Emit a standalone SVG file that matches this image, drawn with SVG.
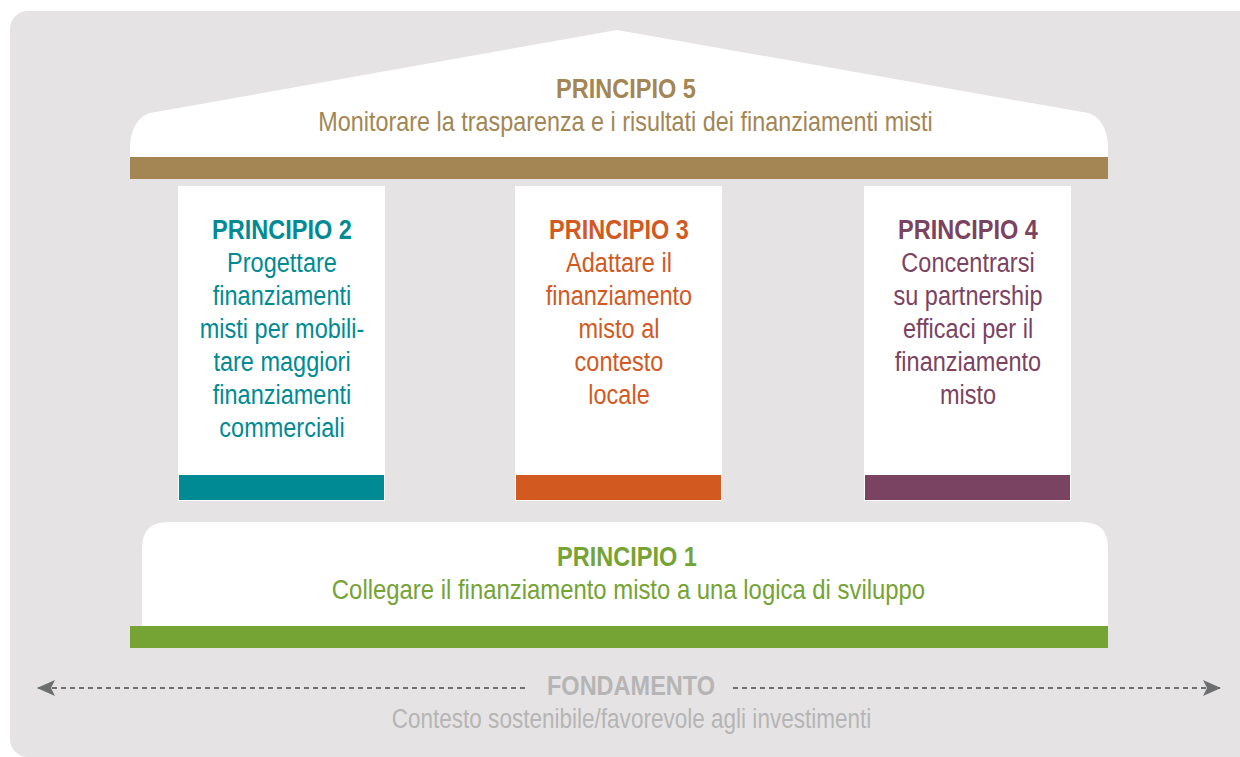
<svg xmlns="http://www.w3.org/2000/svg" width="1240" height="757" viewBox="0 0 1240 757">
<defs>
<style>
.t{font-family:"Liberation Sans",Arial,sans-serif;font-size:28px;text-anchor:middle}
.b{font-weight:bold}
.p5{fill:#A38654}.p1{fill:#75A334}.p2{fill:#008A94}.p3{fill:#D2591F}.p4{fill:#7B4362}
.gr{fill:#B5B5B5}
.w{fill:#FFFFFF}
.dash{stroke:#6D6E70;stroke-width:2;stroke-dasharray:5 4;fill:none}
</style>
<marker id="ah" viewBox="0 0 18 16" refX="17" refY="8" markerWidth="18" markerHeight="16" markerUnits="userSpaceOnUse" orient="auto-start-reverse">
<path d="M0,0 L18,8 L0,16 L4,8 Z" fill="#6D6E70"/>
</marker>
</defs>
<rect x="10" y="11" width="1248" height="746" rx="18" fill="#E5E3E4"/>
<g id="principio5">
<path class="w" d="M130,157 L130,148 C130,130 138,116 150,113 L617,30 L1088,113 C1100,116 1108,130 1108,148 L1108,157 Z"/>
<rect x="130" y="157" width="978" height="22" class="p5"/>
<text class="t b p5" x="0" y="98" transform="matrix(0.84 0 0 1 626 0)">PRINCIPIO 5</text>
<text class="t p5" x="0" y="131" transform="matrix(0.835 0 0 1 625.5 0)">Monitorare la trasparenza e i risultati dei finanziamenti misti</text>
</g>
<g id="principio2">
<rect x="178" y="186" width="207" height="315" class="w"/>
<rect x="179" y="475" width="205" height="25" class="p2"/>
<g transform="matrix(0.84 0 0 1 282 0)">
<text class="t b p2" x="0" y="239">PRINCIPIO 2</text>
<text class="t p2" x="0" y="272">Progettare</text>
<text class="t p2" x="0" y="305">finanziamenti</text>
<text class="t p2" x="0" y="338">misti per mobili-</text>
<text class="t p2" x="0" y="371">tare maggiori</text>
<text class="t p2" x="0" y="404">finanziamenti</text>
<text class="t p2" x="0" y="437">commerciali</text>
</g>
</g>
<g id="principio3">
<rect x="515" y="186" width="207" height="315" class="w"/>
<rect x="516" y="475" width="205" height="25" class="p3"/>
<g transform="matrix(0.84 0 0 1 619 0)">
<text class="t b p3" x="0" y="239">PRINCIPIO 3</text>
<text class="t p3" x="0" y="272">Adattare il</text>
<text class="t p3" x="0" y="305">finanziamento</text>
<text class="t p3" x="0" y="338">misto al</text>
<text class="t p3" x="0" y="371">contesto</text>
<text class="t p3" x="0" y="404">locale</text>
</g>
</g>
<g id="principio4">
<rect x="864" y="186" width="207" height="315" class="w"/>
<rect x="865" y="475" width="205" height="25" class="p4"/>
<g transform="matrix(0.84 0 0 1 968 0)">
<text class="t b p4" x="0" y="239">PRINCIPIO 4</text>
<text class="t p4" x="0" y="272">Concentrarsi</text>
<text class="t p4" x="0" y="305">su partnership</text>
<text class="t p4" x="0" y="338">efficaci per il</text>
<text class="t p4" x="0" y="371">finanziamento</text>
<text class="t p4" x="0" y="404">misto</text>
</g>
</g>
<g id="principio1">
<path class="w" d="M142,626 L142,548 Q142,522 168,522 L1082,522 Q1108,522 1108,548 L1108,626 Z"/>
<rect x="130" y="626" width="978" height="22" class="p1"/>
<text class="t b p1" x="0" y="566" transform="matrix(0.84 0 0 1 627 0)">PRINCIPIO 1</text>
<text class="t p1" x="0" y="599" transform="matrix(0.853 0 0 1 628.5 0)">Collegare il finanziamento misto a una logica di sviluppo</text>
</g>
<g id="fondamento">
<text class="t b gr" x="0" y="695" transform="matrix(0.84 0 0 1 631 0)">FONDAMENTO</text>
<text class="t gr" x="0" y="728" transform="matrix(0.805 0 0 1 631.5 0)">Contesto sostenibile/favorevole agli investimenti</text>
</g>
<g id="connectors">
<line class="dash" x1="525" y1="688" x2="38" y2="688" marker-end="url(#ah)"/>
<line class="dash" x1="733" y1="688" x2="1220" y2="688" marker-end="url(#ah)"/>
</g>
</svg>
